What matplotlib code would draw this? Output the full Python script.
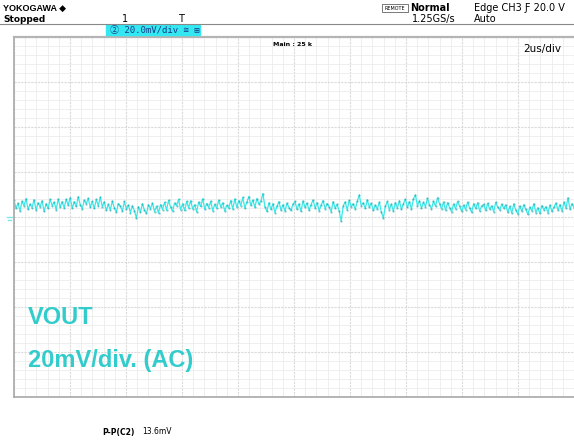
import numpy as np
import matplotlib.pyplot as plt
from matplotlib.lines import Line2D
from matplotlib.patches import Rectangle

# scope settings
volts_per_div = 20.0   # mV/div
time_per_div = 2.0     # us/div
n_hdiv = 10
n_vdiv = 8

# VOUT ripple, mV (AC coupled) left to right
vout_mv = [
    7.4, 3.9, 6.1, 2.7, 7.0, 5.0, 8.2, 3.4, 5.7, 4.2, 7.7, 3.1, 6.3, 4.6, 7.2, 2.5, 5.9, 3.8, 7.9, 5.1, 6.6, 3.3, 8.0, 4.4, 6.8,
    4.1, 7.9, 5.2, 8.6, 3.9, 6.8, 4.7, 9.0, 5.5, 3.6, 7.5, 5.9, 8.3, 4.3, 6.9, 3.8, 7.8, 5.0, 8.8, 4.6,
    6.7, 2.9, 5.6, 3.2, 7.1, 4.0, 2.2, 6.0, 4.8, 2.6, 6.9, 3.5, 5.3, 2.0, 4.9,
    2.8, -0.5, 4.6, 2.1, 5.9, 3.0, 1.6, 5.4, 3.7, 6.1, 2.4, 4.8, 1.8, 5.5, 3.3,
    6.5, 3.1, 7.4, 4.4, 2.6, 6.2, 5.0, 7.8, 3.3, 5.8, 2.9, 6.9, 4.1, 7.2, 3.7, 5.4, 2.3, 6.6, 4.7, 8.1,
    3.5, 6.0, 4.2, 7.0, 2.8, 5.6, 3.9, 7.5, 4.5, 6.3, 2.7, 5.2, 4.0, 7.3, 3.6,
    8.0, 4.4, 7.3, 5.1, 8.7, 3.9, 6.6, 9.1, 5.2, 7.5, 4.3, 8.2, 5.8, 6.9, 10.4,
    4.6, 2.5, 6.3, 3.4, 5.9, 2.0, 4.8, 6.8, 3.1, 5.4, 2.7, 6.1, 4.2, 2.9, 5.7,
    6.9, 3.4, 5.8, 2.6, 7.1, 4.3, 6.2, 3.0, 5.5, 7.6,
    4.0, 6.4, 2.8, 5.2, 7.3, 3.7, 6.0, 4.5, 2.4, 6.8,
    3.9, 5.6, 2.7, -1.8, 4.9, 6.7, 3.2, 7.4, 4.6, 5.9,
    3.5, 7.0, 9.8, 5.1, 6.3, 3.8, 7.7, 4.4, 6.1, 2.9,
    5.3, 3.6, 6.6, 2.2, -0.4, 4.7, 6.9, 3.3, 5.7, 2.6,
    6.4, 4.1, 7.2, 3.4, 5.8,
    7.9, 4.3, 6.8, 3.5, 8.1, 9.8, 5.0, 7.2, 3.9, 6.5, 4.6, 8.3, 5.4, 3.7, 7.0, 4.8, 8.6, 5.9, 3.6, 6.7,
    3.0, 6.4, 4.2, 2.3, 5.8, 3.6, 6.9, 4.8, 2.5, 5.3, 3.3, 6.6, 4.0, 2.1, 5.9,
    3.8, 6.3, 2.7, 4.9, 5.6, 2.9, 6.1, 3.5, 5.0, 2.4, 6.5, 4.4, 3.1, 5.7, 3.9,
    5.4, 2.1, 4.7, 1.8, 5.8, 3.0, 1.4, 4.9, 2.6, 5.5, 3.4, 1.2, 4.3, 2.8, 5.9, 2.0, 4.1, 1.6, 5.1, 3.2, 4.6, 1.9, 5.3, 2.5, 4.4,
    6.2, 3.1, 5.5, 2.7, 6.6, 4.0, 8.5, 3.4, 5.9, 4.2,
]

W, H = 574, 441
fig = plt.figure(figsize=(W / 100, H / 100), dpi=100)
fig.patch.set_facecolor('white')

# plot area in pixels: x 14..574, y 37..397
ax = fig.add_axes([14 / W, 1 - 397 / H, 560 / W, 360 / H])
t_end = time_per_div * n_hdiv
v_half = volts_per_div * n_vdiv / 2
t = np.linspace(0, t_end, len(vout_mv))

ax.set_xlim(0, t_end)
ax.set_ylim(-v_half, v_half)
ax.set_xticks(np.arange(0, t_end + 0.01, time_per_div))
ax.set_xticks(np.arange(0, t_end + 0.01, time_per_div / 5), minor=True)
ax.set_yticks(np.arange(-v_half, v_half + 0.01, volts_per_div))
ax.set_yticks(np.arange(-v_half, v_half + 0.01, volts_per_div / 5), minor=True)
ax.grid(which='minor', color='#ececec', lw=0.6)
ax.grid(which='major', color='#dadada', lw=0.8, linestyle=(0, (2, 1)))
ax.tick_params(which='both', length=0, labelbottom=False, labelleft=False)
ax.set_axisbelow(True)

for side in ['left', 'bottom']:
    ax.spines[side].set_color('#a8a8a8')
    ax.spines[side].set_linewidth(1.2)
ax.spines['top'].set_color('#b4b4b4')
ax.spines['top'].set_linewidth(1.6)
ax.spines['right'].set_visible(False)

ax.plot(t, vout_mv, color='#3de8e8', lw=0.9)
ax.plot(t, vout_mv, color='#1fa8b0', lw=0, marker='.', ms=1.2, alpha=0.6)

# ground marker on the left
ax.add_line(Line2D([-0.012, -0.004], [0.5, 0.5], transform=ax.transAxes, color='#7de8e8', lw=1, clip_on=False))
ax.add_line(Line2D([-0.010, -0.006], [0.492, 0.492], transform=ax.transAxes, color='#7de8e8', lw=1, clip_on=False))

ax.text(0.025, 0.22, 'VOUT', transform=ax.transAxes, fontsize=17, fontweight='bold',
        family='Liberation Sans', color='#33cccc', va='center')
ax.text(0.025, 0.1, '20mV/div. (AC)', transform=ax.transAxes, fontsize=17, fontweight='bold',
        family='Liberation Sans', color='#33cccc', va='center')
ax.text(0.462, 0.985, 'Main : 25 k', transform=ax.transAxes, fontsize=4.5, fontweight='bold', va='top')
ax.text(0.91, 0.98, '2us/div', transform=ax.transAxes, fontsize=7.5, family='Liberation Sans Narrow', va='top')

# header
def px(x, y):
    return x / W, 1 - y / H

fig.add_artist(Line2D([0, 1], [1 - 24 / H, 1 - 24 / H], color='#888888', lw=0.8))
fig.text(*px(3, 8), 'YOKOGAWA \u25c6', fontsize=6.5, fontweight='bold', va='center',
         family=['Liberation Sans', 'DejaVu Sans'])
fig.text(*px(3, 19), 'Stopped', fontsize=6.5, fontweight='bold', va='center', family='Liberation Sans Narrow')
fig.text(*px(122, 19), '1', fontsize=7, va='center', family='Liberation Sans Narrow')
fig.text(*px(178, 19), 'T', fontsize=7, va='center', family='Liberation Sans Narrow')
fig.add_artist(Rectangle(px(106, 35), 94 / W, 10 / H, color='#33e8f0', transform=fig.transFigure))
fig.text(*px(110, 30), '\u2461 20.0mV/div \u2245 \u229e', fontsize=6.5, va='center',
         family=['DejaVu Sans Mono', 'Noto Sans CJK SC', 'DejaVu Sans'], color='#1a3a8a')
fig.add_artist(Rectangle(px(382, 12), 26 / W, 8 / H, fill=False, ec='#444444', lw=0.5, transform=fig.transFigure))
fig.text(*px(395, 8), 'REMOTE', fontsize=3.5, ha='center', va='center')
fig.text(*px(410, 8), 'Normal', fontsize=7, fontweight='bold', va='center', family='Liberation Sans Narrow')
fig.text(*px(412, 19), '1.25GS/s', fontsize=7, va='center', family='Liberation Sans Narrow')
fig.text(*px(474, 8), 'Edge CH3 \u0191 20.0 V', fontsize=7, va='center', family='Liberation Sans Narrow')
fig.text(*px(474, 19), 'Auto', fontsize=7, va='center', family='Liberation Sans Narrow')

# measurement
fig.text(*px(102, 432), 'P-P(C2)', fontsize=5.5, fontweight='bold', va='center', family='Liberation Sans Narrow')
fig.text(*px(142, 432), '13.6mV', fontsize=5.5, va='center', family='Liberation Sans Narrow')

fig.savefig('out.png', dpi=100)
